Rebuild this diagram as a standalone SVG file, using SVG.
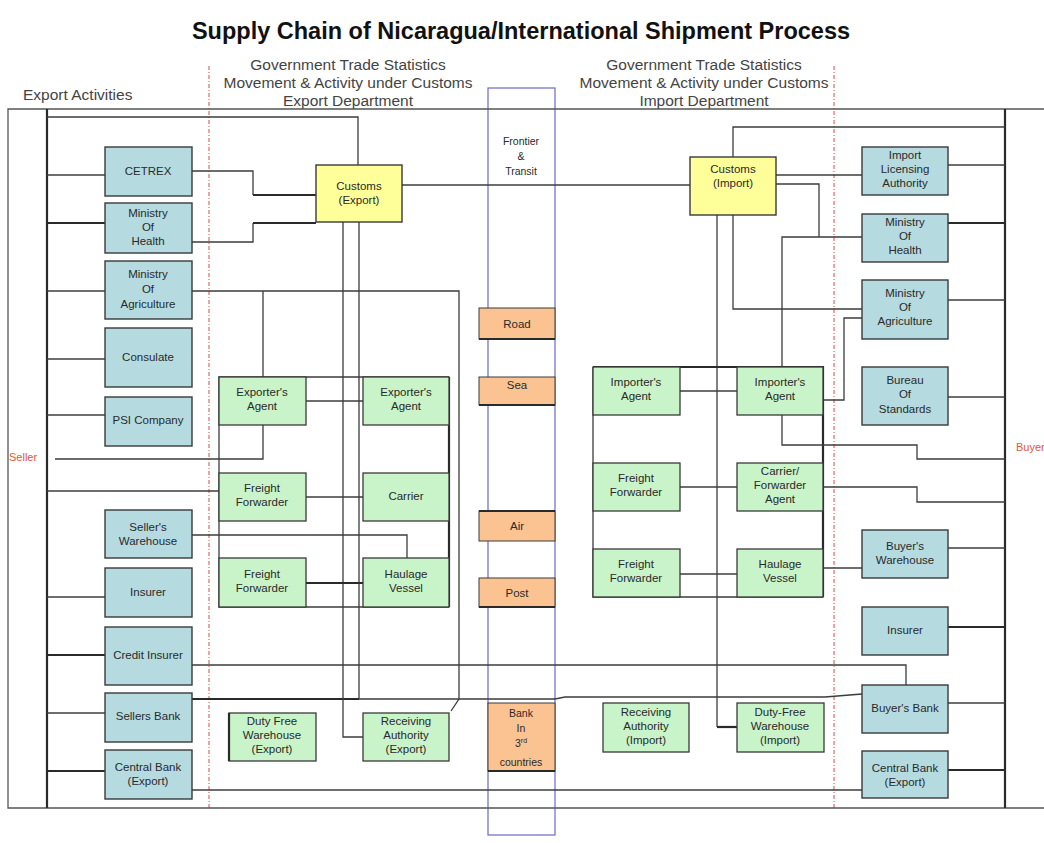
<svg xmlns="http://www.w3.org/2000/svg" width="1044" height="843" viewBox="0 0 1044 843">
  <style>
    .title { font-family: "Liberation Sans", Arial, sans-serif; font-weight: bold; font-size: 23.5px; fill: #111; }
    .head { font-family: "Liberation Sans", Arial, sans-serif; font-size: 15.5px; fill: #444; }
    .side { font-family: "Liberation Sans", Arial, sans-serif; font-size: 11px; fill: #e2583a; }
    .lbl { font-family: "Liberation Sans", Arial, sans-serif; font-size: 11.5px; fill: #2a2a2a; text-anchor: middle; }
    .sm { font-family: "Liberation Sans", Arial, sans-serif; font-size: 10.5px; fill: #2a2a2a; text-anchor: middle; }
    .teal { fill: #b5dbe0; stroke: #3a3a3a; stroke-width: 1.4; }
    .green { fill: #c9f3c9; stroke: #3a3a3a; stroke-width: 1.3; }
    .yellow { fill: #ffff99; stroke: #3a3a3a; stroke-width: 1.4; }
    .orange { fill: #fbc392; stroke: #3a3a3a; stroke-width: 1; }
    .base { stroke: #2a2a2a; stroke-width: 2.2; }
    .ln { fill: none; stroke: #3c3c3c; stroke-width: 1.3; }
    .bold { fill: none; stroke: #2a2a2a; stroke-width: 2.2; }
    .frame { fill: none; stroke: #555; stroke-width: 1.3; }
    .divider { fill: none; stroke: #e06a6a; stroke-width: 1.2; stroke-dasharray: 4 2 1 2; }
    .transit { fill: none; stroke: #6a6ac8; stroke-width: 1.2; }
  </style>

  <rect width="1044" height="843" fill="#ffffff"/>

  <!-- heading texts -->
  <text class="title" x="521" y="39" text-anchor="middle">Supply Chain of Nicaragua/International Shipment Process</text>
  <text class="head" x="23" y="100">Export Activities</text>
  <g class="head" text-anchor="middle">
    <text x="348" y="70">Government Trade Statistics</text>
    <text x="348" y="88">Movement &amp; Activity under Customs</text>
    <text x="348" y="106">Export Department</text>
    <text x="704" y="70">Government Trade Statistics</text>
    <text x="704" y="88">Movement &amp; Activity under Customs</text>
    <text x="704" y="106">Import Department</text>
  </g>
  <text class="side" x="9" y="461">Seller</text>
  <text class="side" x="1016" y="451">Buyer</text>

  <!-- customs zone dividers and transit column -->
  <line class="divider" x1="209" y1="66" x2="209" y2="808"/>
  <line class="divider" x1="834" y1="66" x2="834" y2="808"/>
  <rect id="frontier" class="transit" x="488" y="88" width="67" height="747"/>

  <!-- outer frame -->
  <path class="frame" d="M1044,109 H8 V808 H1044"/>

  <g id="connectors">
    <!-- seller and buyer buses -->
    <line class="base" x1="47" y1="109" x2="47" y2="808"/>
    <line class="base" x1="1005" y1="109" x2="1005" y2="808"/>

    <!-- seller side -->
    <path class="ln" d="M47,117 H358 V165"/>
    <path class="ln" d="M47,175 H105"/>
    <path class="bold" d="M47,223 H105"/>
    <path class="ln" d="M47,291 H105"/>
    <path class="ln" d="M192,291 H459 V699 L451,711"/>
    <path class="ln" d="M263,291 V377"/>
    <path class="ln" d="M47,359 H105"/>
    <path class="ln" d="M47,415 H105"/>
    <path class="ln" d="M55,459 H263 V425"/>
    <path class="ln" d="M47,491 H219"/>
    <path class="ln" d="M192,535 H407 V558"/>
    <path class="ln" d="M47,597 H105"/>
    <path class="bold" d="M47,655 H105"/>
    <path class="ln" d="M192,665 H906 V685"/>
    <path class="ln" d="M47,713 H105"/>
    <path class="bold" d="M192,699 H359"/>
    <path class="ln" d="M359,699 H555 L565,697 H825 L862,694"/>
    <path class="bold" d="M47,771 H105"/>
    <path class="ln" d="M192,790 H862"/>

    <!-- export customs links -->
    <path class="ln" d="M192,171 H253 V195"/>
    <path class="bold" d="M253,195 H316"/>
    <path class="ln" d="M192,242 H253 V223"/>
    <path class="bold" d="M253,223 H316"/>
    <path class="ln" d="M402,185 H690"/>
    <path class="ln" d="M359,222 V699"/>
    <path class="ln" d="M343,222 V737 H363"/>

    <!-- export agents block -->
    <path class="ln" d="M449,377 H219 V607 H449"/>
    <path class="bold" d="M449,377 V607"/>
    <path class="ln" d="M306,401 H363"/>
    <path class="ln" d="M306,497 H363"/>
    <path class="bold" d="M306,583 H363"/>

    <!-- import customs links -->
    <path class="ln" d="M733,157 V127 H1005"/>
    <path class="ln" d="M776,175 H862"/>
    <path class="ln" d="M948,165 H1005"/>
    <path class="ln" d="M776,184 H819 V237"/>
    <path class="ln" d="M862,237 H782 V367"/>
    <path class="bold" d="M948,223 H1005"/>
    <path class="ln" d="M733,215 V309 H862"/>
    <path class="ln" d="M948,300 H1005"/>
    <path class="ln" d="M823,400 H844 V318 H862"/>
    <path class="ln" d="M948,397 H1005"/>
    <path class="ln" d="M717,215 V727"/>
    <path class="bold" d="M717,727 H737"/>

    <!-- import agents block -->
    <path class="bold" d="M593,367 H823 V597"/>
    <path class="ln" d="M593,367 V597 H823"/>
    <path class="ln" d="M680,391 H737"/>
    <path class="ln" d="M782,415 V445 H917 V459 H1005"/>
    <path class="ln" d="M680,487 H737"/>
    <path class="ln" d="M823,487 H917 V502 H1005"/>
    <path class="ln" d="M680,574 H737"/>
    <path class="ln" d="M823,568 H862"/>

    <!-- buyer side -->
    <path class="ln" d="M948,548 H1005"/>
    <path class="bold" d="M948,627 H1005"/>
    <path class="ln" d="M948,703 H1005"/>
    <path class="bold" d="M948,770 H1005"/>
  </g>

  <!-- seller-side agencies -->
  <g id="cetrex"><rect class="teal" x="105" y="147" width="87" height="49"/><text class="lbl" x="148" y="175">CETREX</text></g>
  <g id="ministry-health-exp"><rect class="teal" x="105" y="203" width="87" height="50"/><text class="lbl" x="148" y="217">Ministry</text><text class="lbl" x="148" y="231">Of</text><text class="lbl" x="148" y="245">Health</text></g>
  <g id="ministry-agri-exp"><rect class="teal" x="105" y="261" width="87" height="58"/><text class="lbl" x="148" y="278">Ministry</text><text class="lbl" x="148" y="293">Of</text><text class="lbl" x="148" y="308">Agriculture</text></g>
  <g id="consulate"><rect class="teal" x="105" y="328" width="87" height="59"/><text class="lbl" x="148" y="361">Consulate</text></g>
  <g id="psi"><rect class="teal" x="105" y="397" width="87" height="49"/><text class="lbl" x="148" y="424">PSI Company</text></g>
  <g id="seller-warehouse"><rect class="teal" x="105" y="510" width="87" height="48"/><text class="lbl" x="148" y="531">Seller's</text><text class="lbl" x="148" y="545">Warehouse</text></g>
  <g id="insurer-exp"><rect class="teal" x="105" y="568" width="87" height="49"/><text class="lbl" x="148" y="596">Insurer</text></g>
  <g id="credit-insurer"><rect class="teal" x="105" y="627" width="87" height="58"/><text class="lbl" x="148" y="659">Credit Insurer</text></g>
  <g id="sellers-bank"><rect class="teal" x="105" y="693" width="87" height="49"/><text class="lbl" x="148" y="720">Sellers Bank</text></g>
  <g id="central-bank-exp"><rect class="teal" x="105" y="750" width="87" height="49"/><text class="lbl" x="148" y="771">Central Bank</text><text class="lbl" x="148" y="785">(Export)</text></g>

  <!-- customs offices -->
  <g id="customs-export"><rect class="yellow" x="316" y="165" width="86" height="57"/><text class="lbl" x="359" y="190">Customs</text><text class="lbl" x="359" y="204">(Export)</text></g>
  <g id="customs-import"><rect class="yellow" x="690" y="157" width="86" height="58"/><text class="lbl" x="733" y="173">Customs</text><text class="lbl" x="733" y="187">(Import)</text></g>

  <!-- export agents -->
  <g id="exporter-agent-1"><rect class="green" x="219" y="377" width="87" height="48"/><text class="lbl" x="262" y="396">Exporter's</text><text class="lbl" x="262" y="410">Agent</text></g>
  <g id="exporter-agent-2"><rect class="green" x="363" y="377" width="86" height="48"/><text class="lbl" x="406" y="396">Exporter's</text><text class="lbl" x="406" y="410">Agent</text></g>
  <g id="freight-fwd-exp-1"><rect class="green" x="219" y="473" width="87" height="48"/><text class="lbl" x="262" y="492">Freight</text><text class="lbl" x="262" y="506">Forwarder</text></g>
  <g id="carrier-exp"><rect class="green" x="363" y="473" width="86" height="48"/><text class="lbl" x="406" y="500">Carrier</text></g>
  <g id="freight-fwd-exp-2"><rect class="green" x="219" y="558" width="87" height="49"/><text class="lbl" x="262" y="578">Freight</text><text class="lbl" x="262" y="592">Forwarder</text></g>
  <g id="haulage-exp"><rect class="green" x="363" y="558" width="86" height="49"/><text class="lbl" x="406" y="578">Haulage</text><text class="lbl" x="406" y="592">Vessel</text></g>
  <g id="duty-free-exp"><rect class="green" x="229" y="713" width="87" height="48"/><line class="bold" x1="229" y1="713" x2="229" y2="761"/><text class="lbl" x="272" y="725">Duty Free</text><text class="lbl" x="272" y="739">Warehouse</text><text class="lbl" x="272" y="753">(Export)</text></g>
  <g id="receiving-exp"><rect class="green" x="363" y="713" width="86" height="48"/><text class="lbl" x="406" y="725">Receiving</text><text class="lbl" x="406" y="739">Authority</text><text class="lbl" x="406" y="753">(Export)</text></g>

  <!-- transport modes -->
  <g id="road"><rect class="orange" x="479" y="308" width="76" height="31"/><line class="bold" x1="479" y1="339" x2="555" y2="339"/><text class="lbl" x="517" y="328">Road</text></g>
  <g id="sea"><rect class="orange" x="479" y="377" width="76" height="28"/><line class="bold" x1="479" y1="405" x2="555" y2="405"/><text class="lbl" x="517" y="389">Sea</text></g>
  <g id="air"><rect class="orange" x="479" y="511" width="76" height="30"/><line class="bold" x1="479" y1="511" x2="555" y2="511"/><text class="lbl" x="517" y="530">Air</text></g>
  <g id="post"><rect class="orange" x="479" y="578" width="76" height="29"/><line class="bold" x1="479" y1="607" x2="555" y2="607"/><text class="lbl" x="517" y="597">Post</text></g>
  <g id="bank-third"><rect class="orange" x="488" y="703" width="67" height="68"/><line class="bold" x1="488" y1="771" x2="555" y2="771"/><text class="sm" x="521" y="717">Bank</text><text class="sm" x="521" y="732">In</text><text class="sm" x="521" y="747">3<tspan font-size="7" dy="-4">rd</tspan></text><text class="sm" x="521" y="766">countries</text></g>
  <g id="frontier-label"><text class="sm" x="521" y="145">Frontier</text><text class="sm" x="521" y="160">&amp;</text><text class="sm" x="521" y="175">Transit</text></g>

  <!-- import agents -->
  <g id="importer-agent-1"><rect class="green" x="593" y="367" width="87" height="48"/><text class="lbl" x="636" y="386">Importer's</text><text class="lbl" x="636" y="400">Agent</text></g>
  <g id="importer-agent-2"><rect class="green" x="737" y="367" width="86" height="48"/><text class="lbl" x="780" y="386">Importer's</text><text class="lbl" x="780" y="400">Agent</text></g>
  <g id="freight-fwd-imp-1"><rect class="green" x="593" y="463" width="87" height="48"/><text class="lbl" x="636" y="482">Freight</text><text class="lbl" x="636" y="496">Forwarder</text></g>
  <g id="carrier-fwd-agent"><rect class="green" x="737" y="463" width="86" height="48"/><text class="lbl" x="780" y="475">Carrier/</text><text class="lbl" x="780" y="489">Forwarder</text><text class="lbl" x="780" y="503">Agent</text></g>
  <g id="freight-fwd-imp-2"><rect class="green" x="593" y="549" width="87" height="48"/><text class="lbl" x="636" y="568">Freight</text><text class="lbl" x="636" y="582">Forwarder</text></g>
  <g id="haulage-imp"><rect class="green" x="737" y="549" width="86" height="48"/><text class="lbl" x="780" y="568">Haulage</text><text class="lbl" x="780" y="582">Vessel</text></g>
  <g id="receiving-imp"><rect class="green" x="603" y="703" width="86" height="49"/><text class="lbl" x="646" y="716">Receiving</text><text class="lbl" x="646" y="730">Authority</text><text class="lbl" x="646" y="744">(Import)</text></g>
  <g id="duty-free-imp"><rect class="green" x="737" y="703" width="87" height="49"/><text class="lbl" x="780" y="716">Duty-Free</text><text class="lbl" x="780" y="730">Warehouse</text><text class="lbl" x="780" y="744">(Import)</text></g>

  <!-- buyer-side agencies -->
  <g id="import-licensing"><rect class="teal" x="862" y="147" width="86" height="48"/><text class="lbl" x="905" y="159">Import</text><text class="lbl" x="905" y="173">Licensing</text><text class="lbl" x="905" y="187">Authority</text></g>
  <g id="ministry-health-imp"><rect class="teal" x="862" y="214" width="86" height="48"/><text class="lbl" x="905" y="226">Ministry</text><text class="lbl" x="905" y="240">Of</text><text class="lbl" x="905" y="254">Health</text></g>
  <g id="ministry-agri-imp"><rect class="teal" x="862" y="280" width="86" height="59"/><text class="lbl" x="905" y="297">Ministry</text><text class="lbl" x="905" y="311">Of</text><text class="lbl" x="905" y="325">Agriculture</text></g>
  <g id="bureau-standards"><rect class="teal" x="862" y="367" width="86" height="58"/><text class="lbl" x="905" y="384">Bureau</text><text class="lbl" x="905" y="398">Of</text><text class="lbl" x="905" y="413">Standards</text></g>
  <g id="buyer-warehouse"><rect class="teal" x="862" y="530" width="86" height="48"/><text class="lbl" x="905" y="550">Buyer's</text><text class="lbl" x="905" y="564">Warehouse</text></g>
  <g id="insurer-imp"><rect class="teal" x="862" y="607" width="86" height="48"/><text class="lbl" x="905" y="634">Insurer</text></g>
  <g id="buyers-bank"><rect class="teal" x="862" y="685" width="86" height="48"/><text class="lbl" x="905" y="712">Buyer's Bank</text></g>
  <g id="central-bank-imp"><rect class="teal" x="862" y="751" width="86" height="47"/><text class="lbl" x="905" y="772">Central Bank</text><text class="lbl" x="905" y="786">(Export)</text></g>
</svg>
